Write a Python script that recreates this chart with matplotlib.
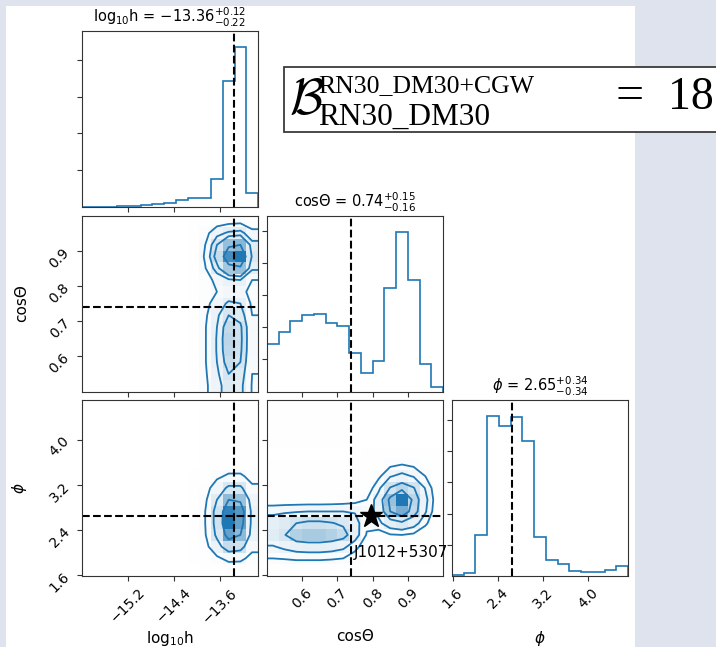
import numpy as np
import matplotlib
matplotlib.use("Agg")
import matplotlib.pyplot as plt
from matplotlib.colors import LinearSegmentedColormap
from matplotlib.patches import Rectangle
from matplotlib.ticker import MultipleLocator

plt.rcParams["font.family"] = ["DejaVu Sans"]
plt.rcParams["mathtext.fontset"] = "dejavusans"

COLOR = "#1f77b4"
BG = "#dfe3ed"
NBINS = 15

# parameter ranges and labels
logh_range = (-16.0, -12.94)
cos_range = (0.5, 1.0)
phi_range = (1.59, 4.70)

logh_label = r"$\mathrm{log}_{10}\mathrm{h}$"
cos_label = "cosΘ"
phi_label = r"$\phi$"

logh_ticks = [-15.2, -14.4, -13.6]
cos_ticks = [0.6, 0.7, 0.8, 0.9]
phi_ticks = [1.6, 2.4, 3.2, 4.0]

# medians and errors (titles + dashed lines)
logh_med, logh_lo, logh_hi = -13.36, 0.22, 0.12
cos_med, cos_lo, cos_hi = 0.74, 0.16, 0.15
phi_med, phi_lo, phi_hi = 2.65, 0.34, 0.34

# 1d histograms (15 bins)
logh_counts = [9, 9, 9, 18, 27, 45, 73, 118, 200, 245, 245, 755, 3409, 4345, 382]
cos_counts = [1479, 1844, 2198, 2385, 2406, 2146, 2031, 1208, 573, 938,
              3208, 4979, 3469, 865, 135]
phi_counts = [21, 107, 1308, 5123, 4802, 5080, 4319, 1233, 504, 386,
              161, 129, 129, 193, 332]

# 2d histograms, rows = y bins (bottom->top)
# logh columns only from bin 9 up, the rest is empty
logh_start = 9
cos_vs_logh = [
    [3, 34, 60, 85, 78, 38],
    [3, 36, 65, 95, 85, 40],
    [3, 38, 70, 110, 95, 42],
    [3, 38, 72, 118, 100, 45],
    [3, 38, 72, 120, 102, 45],
    [3, 38, 70, 115, 100, 45],
    [3, 35, 65, 95, 85, 40],
    [2, 30, 55, 75, 70, 35],
    [2, 25, 40, 50, 50, 30],
    [3, 25, 50, 65, 70, 40],
    [4, 38, 85, 140, 150, 75],
    [5, 45, 110, 200, 220, 90],
    [4, 40, 95, 150, 160, 80],
    [3, 30, 60, 75, 80, 50],
    [2, 12, 25, 30, 32, 20],
]
phi_vs_logh = [
    [0, 2, 5, 10, 10, 5],
    [1, 12, 30, 50, 48, 25],
    [2, 25, 70, 120, 110, 50],
    [3, 35, 100, 200, 170, 70],
    [3, 38, 110, 240, 200, 75],
    [3, 38, 110, 230, 210, 75],
    [3, 30, 90, 170, 160, 65],
    [2, 22, 60, 100, 100, 45],
    [1, 12, 30, 45, 45, 25],
    [0, 4, 10, 15, 15, 8],
    [0, 2, 4, 6, 6, 3],
    [0, 1, 3, 5, 5, 2],
    [0, 1, 3, 5, 5, 2],
    [0, 1, 4, 7, 7, 3],
    [0, 2, 6, 10, 10, 5],
]
phi_vs_cos = [
    [2, 2, 2, 2, 2, 2, 2, 1, 0, 0, 0, 0, 0, 0, 0],
    [30, 32, 35, 35, 35, 33, 30, 18, 8, 3, 3, 4, 3, 1, 0],
    [50, 58, 65, 68, 68, 65, 58, 38, 15, 8, 10, 12, 10, 4, 1],
    [72, 86, 116, 124, 124, 116, 102, 65, 28, 18, 28, 30, 25, 12, 3],
    [68, 76, 88, 95, 95, 90, 82, 62, 35, 45, 70, 80, 65, 35, 8],
    [45, 48, 50, 52, 52, 52, 52, 50, 40, 60, 125, 155, 105, 55, 12],
    [15, 15, 15, 15, 15, 16, 18, 22, 30, 65, 135, 200, 110, 60, 15],
    [4, 4, 4, 4, 4, 4, 5, 6, 15, 45, 90, 110, 90, 50, 12],
    [1, 1, 1, 1, 1, 1, 1, 2, 8, 25, 50, 60, 50, 30, 8],
    [1, 1, 1, 1, 1, 1, 1, 1, 4, 12, 25, 30, 25, 15, 4],
    [0, 0, 0, 0, 0, 0, 0, 0, 2, 5, 10, 12, 10, 6, 2],
    [1, 1, 1, 1, 1, 1, 1, 0, 0, 0, 0, 0, 0, 0, 0],
    [1, 1, 1, 1, 1, 1, 1, 0, 0, 0, 0, 0, 0, 0, 0],
    [1, 1, 1, 1, 1, 1, 1, 0, 0, 0, 0, 0, 0, 0, 0],
    [1, 1, 1, 1, 1, 1, 1, 0, 0, 0, 0, 0, 0, 0, 0],
]

# pulsar marker
psr_name = "J1012+5307"
psr_cos, psr_phi = 0.796, 2.65

# Bayes factor box pieces
bf_symbol = r"$\mathcal{B}$"
bf_upper = "RN30_DM30+CGW"
bf_lower = "RN30_DM30"
bf_value = "18"

LEVELS = 1.0 - np.exp(-0.5 * np.arange(0.5, 2.1, 0.5) ** 2)
density_cmap = LinearSegmentedColormap.from_list("density_cmap", [COLOR, (1, 1, 1, 0)])


def edges(rng):
    return np.linspace(rng[0], rng[1], NBINS + 1)


def full_grid(block, start):
    grid = np.zeros((NBINS, NBINS))
    block = np.asarray(block, dtype=float)
    grid[:, start:start + block.shape[1]] = block
    return grid


def hist1d(ax, counts, rng, med, lo, hi, label):
    counts = np.asarray(counts, dtype=float)
    ax.stairs(counts, edges(rng), color=COLOR, lw=1.2)
    ax.axvline(med, color="k", ls="--", lw=1.5)
    ax.set_xlim(rng)
    ax.set_ylim(0, 1.1 * counts.max())
    ax.yaxis.set_major_locator(MultipleLocator(1000))
    ax.set_yticks([t for t in ax.get_yticks() if 0 < t <= 1.1 * counts.max()])
    ax.set_yticklabels([])
    ax.set_title(f"{label} = ${med:.2f}_{{-{lo:.2f}}}^{{+{hi:.2f}}}$", fontsize=10.5)


def hist2d(ax, H, xr, yr, xmed, ymed):
    # same recipe as corner.hist2d, without the data points
    H = np.asarray(H, dtype=float)
    xe, ye = edges(xr), edges(yr)
    xc = 0.5 * (xe[1:] + xe[:-1])
    yc = 0.5 * (ye[1:] + ye[:-1])

    Hflat = H.flatten()
    Hflat = Hflat[np.argsort(Hflat)[::-1]]
    sm = np.cumsum(Hflat)
    sm /= sm[-1]
    V = np.empty(len(LEVELS))
    for i, v0 in enumerate(LEVELS):
        try:
            V[i] = Hflat[sm <= v0][-1]
        except IndexError:
            V[i] = Hflat[0]
    V.sort()
    m = np.diff(V) == 0
    while np.any(m):
        V[np.where(m)[0][0]] *= 1.0 - 1e-4
        V.sort()
        m = np.diff(V) == 0

    H2 = H.min() + np.zeros((H.shape[0] + 4, H.shape[1] + 4))
    H2[2:-2, 2:-2] = H
    H2[2:-2, 1] = H[:, 0]
    H2[2:-2, -2] = H[:, -1]
    H2[1, 2:-2] = H[0]
    H2[-2, 2:-2] = H[-1]
    H2[1, 1] = H[0, 0]
    H2[1, -2] = H[0, -1]
    H2[-2, 1] = H[-1, 0]
    H2[-2, -2] = H[-1, -1]
    dx, dy = xc[1] - xc[0], yc[1] - yc[0]
    X2 = np.concatenate([xc[0] + np.array([-2, -1]) * dx, xc, xc[-1] + np.array([1, 2]) * dx])
    Y2 = np.concatenate([yc[0] + np.array([-2, -1]) * dy, yc, yc[-1] + np.array([1, 2]) * dy])

    ax.pcolormesh(xe, ye, H.max() - H, cmap=density_cmap, shading="flat")
    ax.contour(X2, Y2, H2, V, colors=COLOR, linewidths=1.3)
    ax.axvline(xmed, color="k", ls="--", lw=1.5)
    ax.axhline(ymed, color="k", ls="--", lw=1.5)
    ax.set_xlim(xr)
    ax.set_ylim(yr)


W, H_ = 716.0, 647.0
fig = plt.figure(figsize=(W / 100, H_ / 100), dpi=100, facecolor=BG)
fig.add_artist(Rectangle((6 / W, 0), 629 / W, 641 / H_, transform=fig.transFigure,
                         facecolor="white", edgecolor="none", zorder=-5))

size = 176
def panel(row, col):
    left = 82 + col * 185
    top = 31 + row * 184.5
    return fig.add_axes([left / W, 1 - (top + size) / H_, size / W, size / H_])

ax00 = panel(0, 0)
ax10 = panel(1, 0)
ax20 = panel(2, 0)
ax11 = panel(1, 1)
ax21 = panel(2, 1)
ax22 = panel(2, 2)

hist1d(ax00, logh_counts, logh_range, logh_med, logh_lo, logh_hi, logh_label)
hist1d(ax11, cos_counts, cos_range, cos_med, cos_lo, cos_hi, cos_label)
hist1d(ax22, phi_counts, phi_range, phi_med, phi_lo, phi_hi, phi_label)

hist2d(ax10, full_grid(cos_vs_logh, logh_start), logh_range, cos_range, logh_med, cos_med)
hist2d(ax20, full_grid(phi_vs_logh, logh_start), logh_range, phi_range, logh_med, phi_med)
hist2d(ax21, phi_vs_cos, cos_range, phi_range, cos_med, phi_med)

ax21.plot(psr_cos, psr_phi, marker="*", color="k", ms=17, zorder=5)
ax21.text(cos_med + 0.006, psr_phi - 0.64, psr_name, fontsize=11, va="center", ha="left", zorder=6)

for ax in (ax00, ax10, ax20):
    ax.set_xticks(logh_ticks)
for ax in (ax11, ax21):
    ax.set_xticks(cos_ticks)
ax22.set_xticks(phi_ticks)
ax10.set_yticks(cos_ticks)
for ax in (ax20, ax21):
    ax.set_yticks(phi_ticks)

for ax in (ax00, ax10, ax11):
    ax.set_xticklabels([])
ax21.set_yticklabels([])

for ax in (ax20, ax21, ax22):
    for lab in ax.get_xticklabels():
        lab.set_rotation(45)
for ax in (ax10, ax20):
    for lab in ax.get_yticklabels():
        lab.set_rotation(45)

ax20.set_xlabel(logh_label, fontsize=11)
ax21.set_xlabel(cos_label, fontsize=11)
ax22.set_xlabel(phi_label, fontsize=11)
ax10.set_ylabel(cos_label, fontsize=11)
ax20.set_ylabel(phi_label, fontsize=11)
for ax in (ax20, ax21, ax22):
    ax.xaxis.set_label_coords(0.5, -0.3)
for ax in (ax10, ax20):
    ax.yaxis.set_label_coords(-0.3, 0.5)

for ax in fig.axes:
    ax.tick_params(labelsize=10, length=3.5, color="#333333")
    for s in ax.spines.values():
        s.set_color("#333333")

# Bayes factor box (runs off the right edge, like the pasted box in the original)
def px(x, y):
    return x / W, 1 - y / H_

fig.add_artist(Rectangle(px(284, 132), 460 / W, 65 / H_, transform=fig.transFigure,
                         facecolor="white", edgecolor="#3a3a3a", lw=1.3, zorder=3))
serif = "Liberation Serif"
fig.text(*px(289, 114), bf_symbol, fontsize=36, math_fontfamily="cm",
         ha="left", va="baseline", zorder=4)
fig.text(*px(318, 92), bf_upper, fontsize=18.5, family=serif,
         ha="left", va="baseline", zorder=4)
fig.text(*px(318, 125), bf_lower, fontsize=22.5, family=serif,
         ha="left", va="baseline", zorder=4)
fig.text(*px(616, 109), "=", fontsize=36, family=serif,
         ha="left", va="baseline", zorder=4)
fig.text(*px(714, 109), bf_value, fontsize=33, family=serif,
         ha="right", va="baseline", zorder=4)

fig.savefig("out.png", dpi=100, facecolor=BG)
